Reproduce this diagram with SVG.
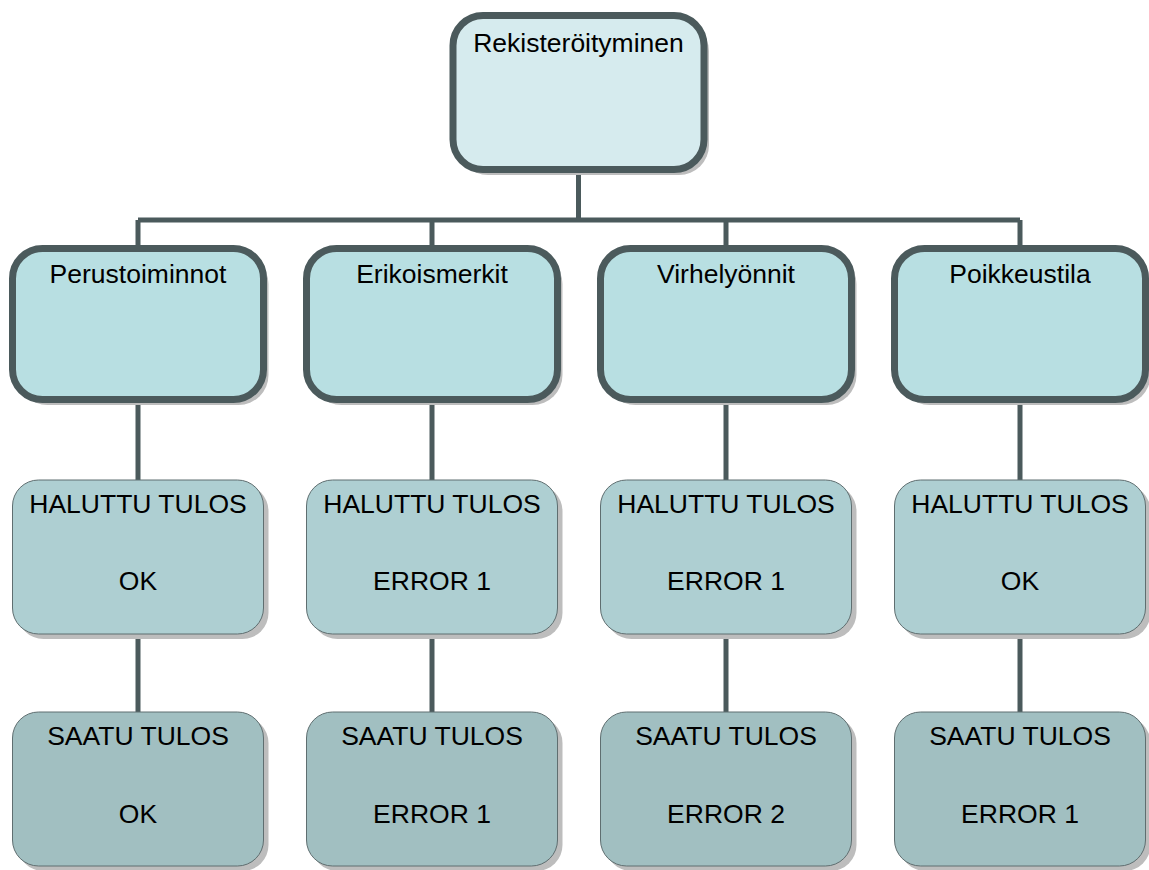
<svg xmlns="http://www.w3.org/2000/svg" width="1149" height="870" viewBox="0 0 1149 870">
<style>
.shadow{fill:#bdbdbd}
.main{stroke:#4b5a5c;stroke-width:7}
.top{fill:#d6ebee}
.cat{fill:#b8dfe2}
.want{fill:#aecfd2;stroke:#5f6e70;stroke-width:1}
.got{fill:#a1bfc1;stroke:#5f6e70;stroke-width:1}
text{font-family:"Liberation Sans",Arial,sans-serif;font-size:26.5px;fill:#000;text-anchor:middle}
.conn{stroke:#4b5a5c;stroke-width:5;fill:none}
</style>
<rect width="1149" height="870" fill="#fff"/>
<g id="connectors">
<path class="conn" d="M578.5 169 V220 M138 220 H1020 M138 220 V249 M432 220 V249 M726 220 V249 M1020 220 V249 M138 400 V480 M432 400 V480 M726 400 V480 M1020 400 V480 M138 634 V712 M432 634 V712 M726 634 V712 M1020 634 V712"/>
</g>
<g id="n-root">
<rect class="shadow" x="458" y="21" width="251" height="154" rx="30"/>
<rect class="main top" x="453" y="15.5" width="251" height="154" rx="30"/>
<text x="578.5" y="52">Rekisteröityminen</text>
</g>
<g id="n-perus">
<rect class="shadow" x="17.5" y="254" width="251" height="151" rx="30"/>
<rect class="main cat" x="12.5" y="248.5" width="251" height="151" rx="30"/>
<text x="138" y="283">Perustoiminnot</text>
</g>
<g id="n-erik">
<rect class="shadow" x="311.5" y="254" width="251" height="151" rx="30"/>
<rect class="main cat" x="306.5" y="248.5" width="251" height="151" rx="30"/>
<text x="432" y="283">Erikoismerkit</text>
</g>
<g id="n-virhe">
<rect class="shadow" x="605.5" y="254" width="251" height="151" rx="30"/>
<rect class="main cat" x="600.5" y="248.5" width="251" height="151" rx="30"/>
<text x="726" y="283">Virhelyönnit</text>
</g>
<g id="n-poikk">
<rect class="shadow" x="899.5" y="254" width="251" height="151" rx="30"/>
<rect class="main cat" x="894.5" y="248.5" width="251" height="151" rx="30"/>
<text x="1020" y="283">Poikkeustila</text>
</g>
<g id="n-want1">
<rect class="shadow" x="17.5" y="485" width="251" height="154" rx="26"/>
<rect class="want" x="12.5" y="480" width="251" height="154" rx="26"/>
<text x="138" y="513">HALUTTU TULOS</text>
<text x="138" y="590">OK</text>
</g>
<g id="n-want2">
<rect class="shadow" x="311.5" y="485" width="251" height="154" rx="26"/>
<rect class="want" x="306.5" y="480" width="251" height="154" rx="26"/>
<text x="432" y="513">HALUTTU TULOS</text>
<text x="432" y="590">ERROR 1</text>
</g>
<g id="n-want3">
<rect class="shadow" x="605.5" y="485" width="251" height="154" rx="26"/>
<rect class="want" x="600.5" y="480" width="251" height="154" rx="26"/>
<text x="726" y="513">HALUTTU TULOS</text>
<text x="726" y="590">ERROR 1</text>
</g>
<g id="n-want4">
<rect class="shadow" x="899.5" y="485" width="251" height="154" rx="26"/>
<rect class="want" x="894.5" y="480" width="251" height="154" rx="26"/>
<text x="1020" y="513">HALUTTU TULOS</text>
<text x="1020" y="590">OK</text>
</g>
<g id="n-got1">
<rect class="shadow" x="17.5" y="717" width="251" height="154" rx="26"/>
<rect class="got" x="12.5" y="712" width="251" height="154" rx="26"/>
<text x="138" y="745">SAATU TULOS</text>
<text x="138" y="823">OK</text>
</g>
<g id="n-got2">
<rect class="shadow" x="311.5" y="717" width="251" height="154" rx="26"/>
<rect class="got" x="306.5" y="712" width="251" height="154" rx="26"/>
<text x="432" y="745">SAATU TULOS</text>
<text x="432" y="823">ERROR 1</text>
</g>
<g id="n-got3">
<rect class="shadow" x="605.5" y="717" width="251" height="154" rx="26"/>
<rect class="got" x="600.5" y="712" width="251" height="154" rx="26"/>
<text x="726" y="745">SAATU TULOS</text>
<text x="726" y="823">ERROR 2</text>
</g>
<g id="n-got4">
<rect class="shadow" x="899.5" y="717" width="251" height="154" rx="26"/>
<rect class="got" x="894.5" y="712" width="251" height="154" rx="26"/>
<text x="1020" y="745">SAATU TULOS</text>
<text x="1020" y="823">ERROR 1</text>
</g>
</svg>
